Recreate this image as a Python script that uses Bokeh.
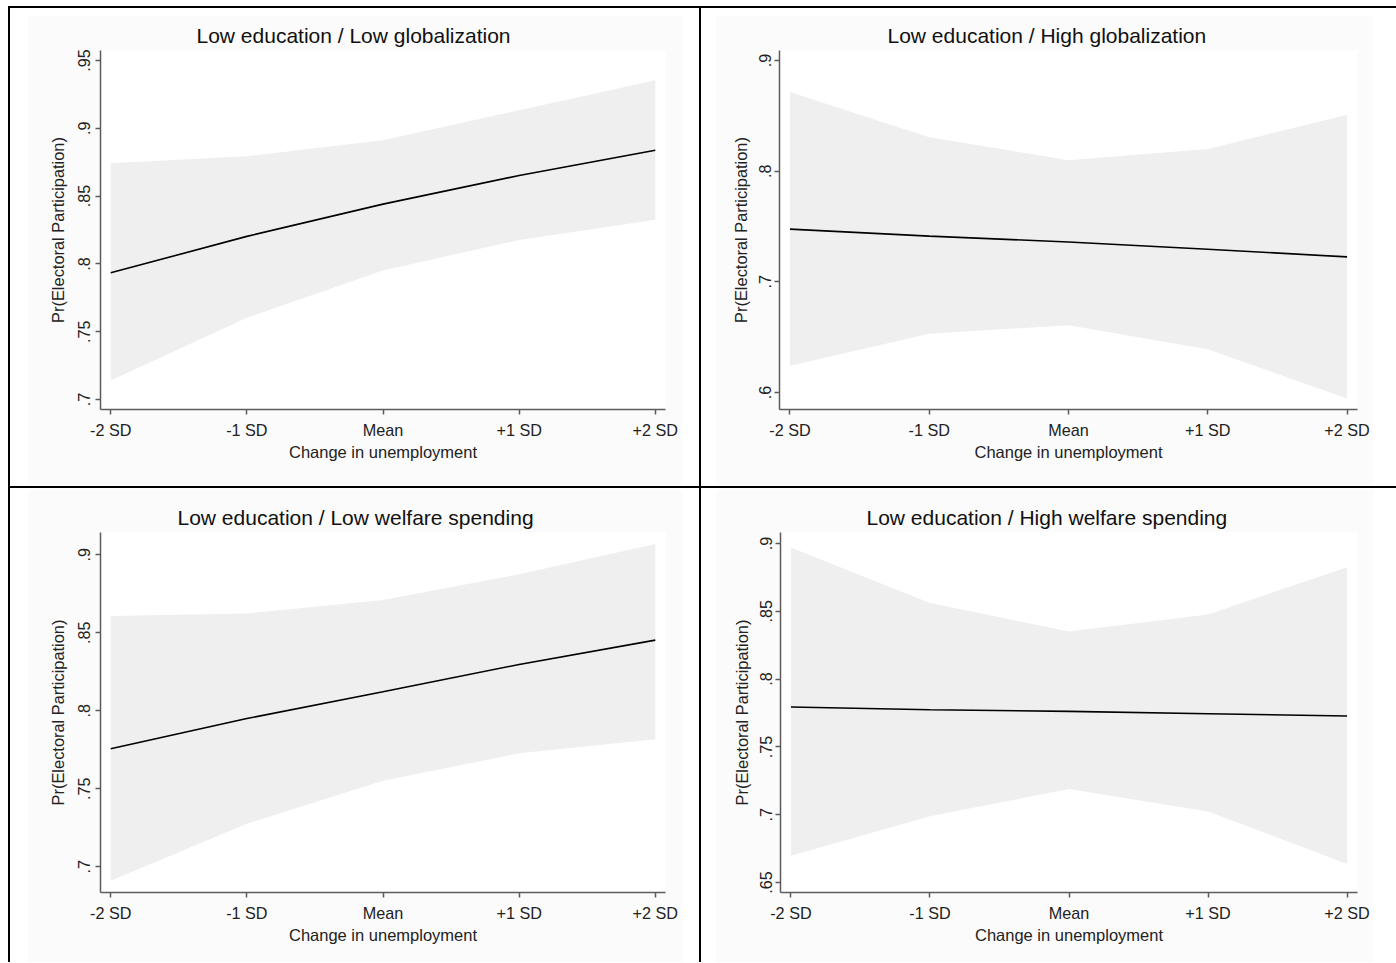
from bokeh.plotting import figure
from bokeh.models import Range1d, FixedTicker, Spacer
from bokeh.layouts import row, column
from bokeh.embed import file_html
from bokeh.resources import INLINE

# ---------------- data ----------------
x_pos = [-2, -1, 0, 1, 2]
x_labels = ["-2 SD", "-1 SD", "Mean", "+1 SD", "+2 SD"]
x_title = "Change in unemployment"
y_title = "Pr(Electoral Participation)"

title_1 = "Low education / Low globalization"
mean_1 = [0.7934, 0.8203, 0.8441, 0.8652, 0.8838]
upper_1 = [0.8742, 0.8794, 0.8912, 0.9133, 0.9354]
lower_1 = [0.7139, 0.7603, 0.7952, 0.8176, 0.8325]
yticks_1 = [0.7, 0.75, 0.8, 0.85, 0.9, 0.95]
ylabels_1 = [".7", ".75", ".8", ".85", ".9", ".95"]

title_2 = "Low education / High globalization"
mean_2 = [0.7476, 0.7413, 0.7360, 0.7294, 0.7225]
upper_2 = [0.8714, 0.8307, 0.8099, 0.8200, 0.8510]
lower_2 = [0.6241, 0.6530, 0.6608, 0.6390, 0.5945]
yticks_2 = [0.6, 0.7, 0.8, 0.9]
ylabels_2 = [".6", ".7", ".8", ".9"]

title_3 = "Low education / Low welfare spending"
mean_3 = [0.7756, 0.7950, 0.8122, 0.8297, 0.8453]
upper_3 = [0.8607, 0.8624, 0.8710, 0.8876, 0.9070]
lower_3 = [0.6910, 0.7275, 0.7551, 0.7727, 0.7818]
yticks_3 = [0.7, 0.75, 0.8, 0.85, 0.9]
ylabels_3 = [".7", ".75", ".8", ".85", ".9"]

title_4 = "Low education / High welfare spending"
mean_4 = [0.7794, 0.7774, 0.7762, 0.7744, 0.7728]
upper_4 = [0.8970, 0.8561, 0.8350, 0.8477, 0.8825]
lower_4 = [0.6697, 0.6988, 0.7190, 0.7024, 0.6637]
yticks_4 = [0.65, 0.7, 0.75, 0.8, 0.85, 0.9]
ylabels_4 = [".65", ".7", ".75", ".8", ".85", ".9"]

# ---------------- styling ----------------
FONT = "Liberation Sans"
BAND = "#efefef"
AXIS = "#5c5c5c"
GRAPH_BG = "#fbfbfb"


def panel(title, mean, upper, lower, yticks, ylabels, yr, w, h,
          bl, br, bt, bb, toff, ylab_std, ytitle_std):
    p = figure(width=w, height=h, output_backend="svg", toolbar_location=None,
               x_range=Range1d(-2.075, 2.075), y_range=Range1d(*yr),
               min_border_left=bl, min_border_right=br,
               min_border_top=bt, min_border_bottom=bb)
    p.background_fill_color = "white"
    p.border_fill_color = GRAPH_BG
    p.outline_line_color = None
    p.grid.visible = False

    p.varea(x=x_pos, y1=lower, y2=upper, fill_color=BAND, fill_alpha=1.0)
    p.line(x=x_pos, y=mean, line_color="black", line_width=1.6)

    p.title.text = title
    p.title.text_font = FONT
    p.title.text_font_size = "21px"
    p.title.text_font_style = "normal"
    p.title.text_color = "#111111"
    p.title.align = "left"
    p.title.offset = toff
    p.title.standoff = 8

    xa = p.xaxis[0]
    xa.ticker = FixedTicker(ticks=x_pos)
    xa.major_label_overrides = {float(k): v for k, v in zip(x_pos, x_labels)}
    xa.axis_label = x_title
    xa.axis_label_text_font = FONT
    xa.axis_label_text_font_size = "16.5px"
    xa.axis_label_text_font_style = "normal"
    xa.axis_label_text_color = "#222222"
    xa.axis_label_standoff = 1
    xa.major_label_text_font = FONT
    xa.major_label_text_font_size = "16.2px"
    xa.major_label_text_color = "#222222"
    xa.major_label_standoff = 6

    ya = p.yaxis[0]
    ya.ticker = FixedTicker(ticks=yticks)
    ya.major_label_overrides = {float(k): v for k, v in zip(yticks, ylabels)}
    ya.major_label_orientation = "vertical"
    ya.axis_label = y_title
    ya.axis_label_text_font = FONT
    ya.axis_label_text_font_size = "16.4px"
    ya.axis_label_text_font_style = "normal"
    ya.axis_label_text_color = "#222222"
    ya.axis_label_standoff = ytitle_std
    ya.major_label_text_font = FONT
    ya.major_label_text_font_size = "16.2px"
    ya.major_label_text_color = "#222222"
    ya.major_label_standoff = ylab_std

    for ax in (xa, ya):
        ax.axis_line_color = AXIS
        ax.axis_line_width = 1.5
        ax.major_tick_line_color = AXIS
        ax.major_tick_line_width = 1.5
        ax.major_tick_in = 0
        ax.major_tick_out = 5
        ax.minor_tick_line_color = None
    return p


# figure sizes (graph regions)
W_L, W_R = 656, 658
H_T, H_B = 469, 472

p1 = panel(title_1, mean_1, upper_1, lower_1, yticks_1, ylabels_1,
           (0.6926, 0.9574), W_L, H_T, 73, 18, 35, 75, 96, 5, 9)
p2 = panel(title_2, mean_2, upper_2, lower_2, yticks_2, ylabels_2,
           (0.5846, 0.9090), W_R, H_T, 64, 16, 35, 75, 108, 3, 7)
p3 = panel(title_3, mean_3, upper_3, lower_3, yticks_3, ylabels_3,
           (0.6835, 0.9143), W_L, H_B, 73, 18, 42, 70, 77, 5, 9)
p4 = panel(title_4, mean_4, upper_4, lower_4, yticks_4, ylabels_4,
           (0.6426, 0.9081), W_R, H_B, 65, 16, 42, 70, 86, 3, 7)


def bar(w, h):
    return Spacer(width=w, height=h, styles={"background-color": "black"})


def gap(w, h):
    return Spacer(width=w, height=h)


def cell(p, w_left, w_right, h_top, h_bot):
    h = p.height + h_top + h_bot
    return row(gap(w_left, h),
               column(gap(p.width, h_top), p, gap(p.width, h_bot), spacing=0),
               gap(w_right, h), spacing=0)


ROW1_H = 478
ROW2_H = 474
row1 = row(gap(8, ROW1_H), bar(2, ROW1_H),
           cell(p1, 17, 16, 7, 2), bar(2, ROW1_H),
           cell(p2, 14, 23, 7, 2), spacing=0)
row2 = row(gap(8, ROW2_H), bar(2, ROW2_H),
           cell(p3, 17, 16, 2, 0), bar(2, ROW2_H),
           cell(p4, 14, 23, 2, 0), spacing=0)

TOTAL_W = 1396
layout = column(
    gap(TOTAL_W, 6),
    row(gap(8, 2), bar(TOTAL_W - 8, 2), spacing=0),
    row1,
    row(gap(8, 2), bar(TOTAL_W - 8, 2), spacing=0),
    row2,
    spacing=0,
)

open("out.html", "w").write(file_html(layout, INLINE))
